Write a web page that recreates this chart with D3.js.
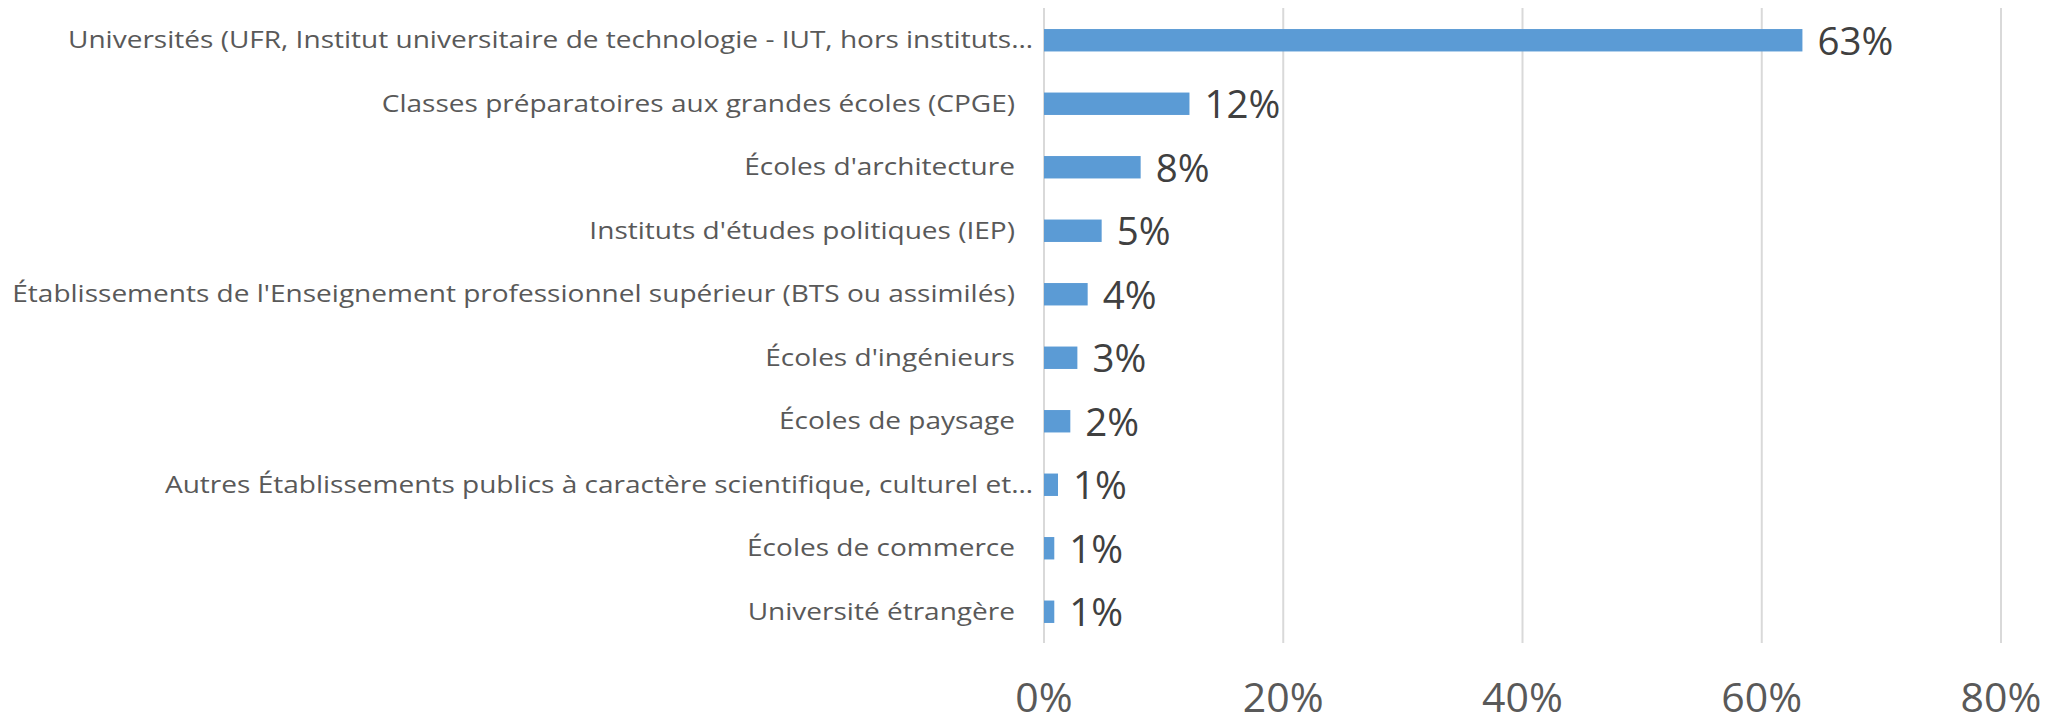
<!DOCTYPE html>
<html>
<head>
<meta charset="utf-8">
<script src="https://cdn.jsdelivr.net/npm/d3@7"></script>
<style>
  body { margin: 0; background: #fff; }
  svg { display: block; }
  text { font-family: "Open Sans", "Noto Sans", sans-serif; }
</style>
</head>
<body>
<div id="chart"></div>
<script>
// categories, top to bottom
var categories = [
    "Universités (UFR, Institut universitaire de technologie - IUT, hors instituts…",
    "Classes préparatoires aux grandes écoles (CPGE)",
    "Écoles d'architecture",
    "Instituts d'études politiques (IEP)",
    "Établissements de l'Enseignement professionnel supérieur (BTS ou assimilés)",
    "Écoles d'ingénieurs",
    "Écoles de paysage",
    "Autres Établissements publics à caractère scientifique, culturel et…",
    "Écoles de commerce",
    "Université étrangère"
];
// share of each category
var shares = [0.634, 0.1216, 0.0808, 0.0482, 0.0365, 0.0279, 0.022, 0.0117, 0.0086, 0.0086];
var xTicks = [0, 0.2, 0.4, 0.6, 0.8];

var width = 2050, height = 714;

var svg = d3.select("#chart").append("svg")
    .attr("width", width).attr("height", height);

var x = d3.scaleLinear().domain([0, 0.8]).range([1044, 2001]);
var y = d3.scaleBand().domain(categories).range([8.5, 643.5])
    .paddingInner(0.647).paddingOuter(0.3235);

var pct = d3.format(".0%");

// squeeze a text to a share of its natural width
function squeeze(sel, f) {
    sel.each(function () {
        var w = this.getComputedTextLength();
        d3.select(this).attr("textLength", w * f).attr("lengthAdjust", "spacingAndGlyphs");
    });
}

// gridlines
svg.append("g").selectAll("line")
    .data(xTicks)
    .join("line")
    .attr("x1", function (d) { return x(d); })
    .attr("x2", function (d) { return x(d); })
    .attr("y1", 8).attr("y2", 643)
    .attr("stroke", "#d9d9d9")
    .attr("stroke-width", 2);

// bars
svg.append("g").selectAll("rect")
    .data(shares)
    .join("rect")
    .attr("x", x(0))
    .attr("y", function (d, i) { return y(categories[i]); })
    .attr("width", function (d) { return x(d) - x(0); })
    .attr("height", y.bandwidth())
    .attr("fill", "#5b9bd5");

// category labels (cut ones with an ellipsis run a bit closer to the axis)
var catLabels = svg.append("g").selectAll("text")
    .data(categories)
    .join("text")
    .attr("x", function (d) { return d.slice(-1) === "…" ? 1033 : 1015; })
    .attr("y", function (d) { return y(d) + y.bandwidth() / 2 + 8; })
    .attr("text-anchor", "end")
    .attr("font-size", 24)
    .attr("fill", "#595959")
    .text(function (d) { return d; });

// first label spans ~965px in the reference
squeeze(catLabels, 965 / catLabels.node().getComputedTextLength());

// value labels
svg.append("g").selectAll("text")
    .data(shares)
    .join("text")
    .attr("x", function (d) { return x(d) + 15; })
    .attr("y", function (d, i) { return y(categories[i]) + y.bandwidth() / 2 + 14.5; })
    .attr("font-size", 38.5)
    .attr("fill", "#404040")
    .text(function (d) { return pct(d); });

// x axis tick labels
svg.append("g").selectAll("text")
    .data(xTicks)
    .join("text")
    .attr("x", function (d) { return x(d); })
    .attr("y", 712)
    .attr("text-anchor", "middle")
    .attr("font-size", 41)
    .attr("fill", "#595959")
    .text(function (d) { return pct(d); });
</script>
</body>
</html>
